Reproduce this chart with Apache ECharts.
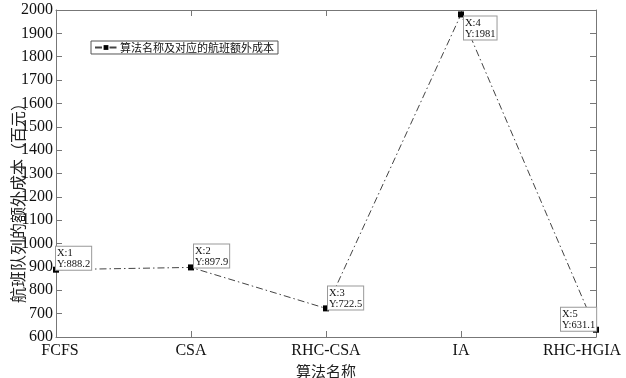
<!DOCTYPE html>
<html>
<head>
<meta charset="utf-8">
<script src="https://cdn.jsdelivr.net/npm/echarts@6/dist/echarts.min.js"></script>
<style>
  html, body { margin: 0; padding: 0; background: #fff; }
  #chart { width: 626px; height: 378px; }
</style>
</head>
<body>
<div id="chart"></div>
<script>
// Algorithms and the extra flight cost each one produces (hundreds of yuan)
const algorithms = ['FCFS', 'CSA', 'RHC-CSA', 'IA', 'RHC-HGIA'];
const extraCost = [888.2, 897.9, 722.5, 1981, 631.1];
const seriesName = '算法名称及对应的航班额外成本';
const yAxisTitle = '航班队列的额外成本（百元）';
const xAxisTitle = '算法名称';

// data-tip box placement relative to each marker
const tipOffsets = [[3, -20], [6, -20], [5, -19], [6, 5], [-32, -19]];

const serif = '"Liberation Serif", "Times New Roman", serif';
const cjk = '"Noto Sans CJK SC", sans-serif';
const axisGrey = '#777';

const chart = echarts.init(document.getElementById('chart'), null, { renderer: 'canvas' });

const points = extraCost.map((v, i) => ({
  value: v,
  label: {
    show: true,
    position: tipOffsets[i],
    formatter: 'X:' + (i + 1) + '\nY:' + v
  }
}));

// first and last category labels are nudged inward so they stay on the canvas
const lastIndex = algorithms.length - 1;
const categoryLabel = (name, i) =>
  i === 0 ? '{first|' + name + '}' : i === lastIndex ? '{last|' + name + '}' : name;

chart.setOption({
  animation: false,
  backgroundColor: '#fff',
  grid: { left: 56, right: 30, top: 10, bottom: 41, outerBoundsMode: 'none' },
  legend: {
    left: 91, top: 41,
    padding: [1, 4, 1, 3],
    itemGap: 0,
    itemWidth: 22, itemHeight: 6,
    borderColor: '#555', borderWidth: 1,
    backgroundColor: '#fff',
    textStyle: { fontFamily: cjk, fontSize: 11, color: '#111', padding: [0, 0, 0, -2] },
    data: [{ name: seriesName }]
  },
  xAxis: [{
    type: 'category',
    data: algorithms,
    boundaryGap: false,
    axisLine: { lineStyle: { color: axisGrey, width: 1 } },
    axisTick: { inside: true, length: 6, interval: 0, lineStyle: { color: axisGrey } },
    axisLabel: {
      interval: 0,
      hideOverlap: false,
      fontFamily: serif, fontSize: 16, color: '#111', margin: 6,
      formatter: categoryLabel,
      rich: {
        first: { fontFamily: serif, fontSize: 16, color: '#111', padding: [0, 0, 0, 8] },
        last: { fontFamily: serif, fontSize: 16, color: '#111', padding: [0, 28, 0, 0] }
      }
    },
    name: xAxisTitle,
    nameLocation: 'middle',
    nameGap: 23,
    nameTextStyle: { fontFamily: cjk, fontSize: 15, color: '#222' }
  }, {
    type: 'category',
    data: algorithms,
    boundaryGap: false,
    position: 'top',
    axisLine: { lineStyle: { color: axisGrey, width: 1 } },
    axisTick: { inside: true, length: 6, interval: 0, lineStyle: { color: axisGrey } },
    axisLabel: { show: false }
  }],
  yAxis: [{
    type: 'value',
    min: 600, max: 2000, interval: 100,
    splitLine: { show: false },
    axisLine: { show: true, lineStyle: { color: axisGrey, width: 1 } },
    axisTick: { show: true, inside: true, length: 6, lineStyle: { color: axisGrey } },
    axisLabel: { fontFamily: serif, fontSize: 16, color: '#111', margin: 3, formatter: v => String(v) }
  }, {
    type: 'value',
    min: 600, max: 2000, interval: 100,
    position: 'right',
    splitLine: { show: false },
    axisLine: { show: true, lineStyle: { color: axisGrey, width: 1 } },
    axisTick: { show: true, inside: true, length: 6, lineStyle: { color: axisGrey } },
    axisLabel: { show: false }
  }],
  graphic: [{
    type: 'text',
    x: 18, y: 199,
    rotation: Math.PI / 2,
    style: {
      text: yAxisTitle,
      font: '16px ' + cjk,
      fill: '#222',
      align: 'center',
      verticalAlign: 'middle'
    }
  }],
  series: [{
    name: seriesName,
    type: 'line',
    data: points,
    symbol: 'rect',
    symbolSize: 6,
    itemStyle: { color: '#000' },
    lineStyle: { color: '#444', width: 1, type: [7, 3, 1.5, 3] },
    label: {
      align: 'left',
      verticalAlign: 'top',
      fontFamily: serif,
      fontSize: 10.5,
      lineHeight: 11,
      color: '#111',
      backgroundColor: '#fff',
      borderColor: '#999',
      borderWidth: 1,
      padding: [1, 1, 0, 1]
    },
    labelLayout: { hideOverlap: false },
    z: 3
  }]
});
</script>
</body>
</html>
